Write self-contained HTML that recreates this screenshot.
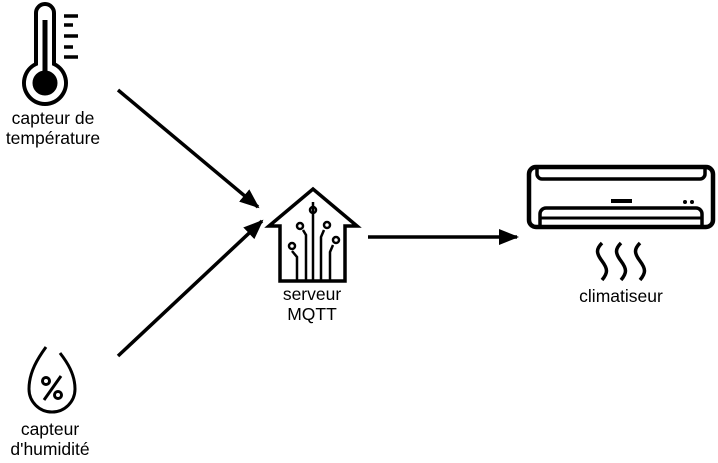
<!DOCTYPE html>
<html><head><style>
body{margin:0;background:#fff;width:718px;height:463px;overflow:hidden}
svg{display:block}
text{font-family:"Liberation Sans",sans-serif;font-size:17.5px;fill:#000;text-anchor:middle}
</style></head><body>
<svg width="718" height="463" viewBox="0 0 718 463">
<defs><marker id="a" markerWidth="20" markerHeight="16" refX="18" refY="8" orient="auto" markerUnits="userSpaceOnUse" viewBox="0 0 20 16"><path d="M0,0L20,8L0,16Z" fill="#000"/></marker></defs>
<g fill="none" stroke="#000" stroke-width="3">
<!-- thermometer -->
<path d="M36,64 V13 a9,9 0 0 1 18,0 V64 a21,21 0 1 1 -18,0Z" stroke-width="4"/>
<line x1="45" y1="20" x2="45" y2="75" stroke-width="5"/>
<circle cx="45" cy="83" r="11" fill="#000"/>
<g stroke-width="3.5"><line x1="64" y1="16" x2="78" y2="16"/><line x1="64" y1="25" x2="73" y2="25"/><line x1="64" y1="36" x2="78" y2="36"/><line x1="64" y1="47" x2="73" y2="47"/><line x1="64" y1="57" x2="78" y2="57"/></g>
<!-- arrows -->
<line x1="118" y1="90" x2="258" y2="207" marker-end="url(#a)" stroke-width="3.5"/>
<line x1="118" y1="356" x2="262" y2="221" marker-end="url(#a)" stroke-width="3.5"/>
<line x1="368" y1="237" x2="517" y2="237" marker-end="url(#a)" stroke-width="3.5"/>
<!-- house -->
<path d="M280,281 V226 H269 L313,189 L357,226 H345 V281 Z" stroke-width="3.5"/>
<g stroke-width="2.5">
<path d="M313,202 V281"/><circle cx="313" cy="210" r="3"/>
<path d="M303,230 L306,235 V281"/><circle cx="300" cy="226" r="3"/>
<path d="M324,230 L321,237 V281"/><circle cx="327" cy="225" r="3"/>
<path d="M292,251 L297,257 V281"/><circle cx="292" cy="246" r="3"/>
<path d="M333,245 L330,252 V281"/><circle cx="336" cy="240" r="3"/>
</g>
<!-- AC -->
<rect x="529" y="167" width="184" height="60" rx="7" stroke-width="4.5"/>
<path d="M537,168 v6 a5,5 0 0 0 5,5 h158 a5,5 0 0 0 5,-5 v-6" stroke-width="3.5"/>
<path d="M540,226 v-12 a6,6 0 0 1 6,-6 h150 a6,6 0 0 1 6,6 v12" stroke-width="3.5"/>
<line x1="540" y1="218" x2="702" y2="218" stroke-width="3"/>
<line x1="611" y1="201" x2="632" y2="201" stroke-width="4"/>
<!-- waves -->
<g stroke-width="3.5">
<path d="M602,243 c-6,6 -6,10 0,18 c6,8 6,12 0,19"/>
<path d="M621,243 c-6,6 -6,10 0,18 c6,8 6,12 0,19"/>
<path d="M640,243 c-6,6 -6,10 0,18 c6,8 6,12 0,19"/>
</g>
<!-- drop -->
<path d="M46,347 C38,358 29,372 29,389 a23,23 0 0 0 46,0 C75,374 67,362 60,353" stroke-width="3"/>
<line x1="44" y1="400" x2="61" y2="376" stroke-width="3"/>
<circle cx="46" cy="381" r="3.5" stroke-width="3"/><circle cx="58" cy="395" r="3.5" stroke-width="3"/>
</g>
<circle cx="685" cy="202" r="2"/><circle cx="692" cy="202" r="2"/>
<text x="53" y="124">capteur de</text><text x="53" y="144">température</text>
<text x="312" y="300">serveur</text><text x="312" y="320">MQTT</text>
<text x="621" y="302">climatiseur</text>
<text x="50" y="435">capteur</text><text x="50" y="455">d'humidité</text>
</svg>
</body></html>
